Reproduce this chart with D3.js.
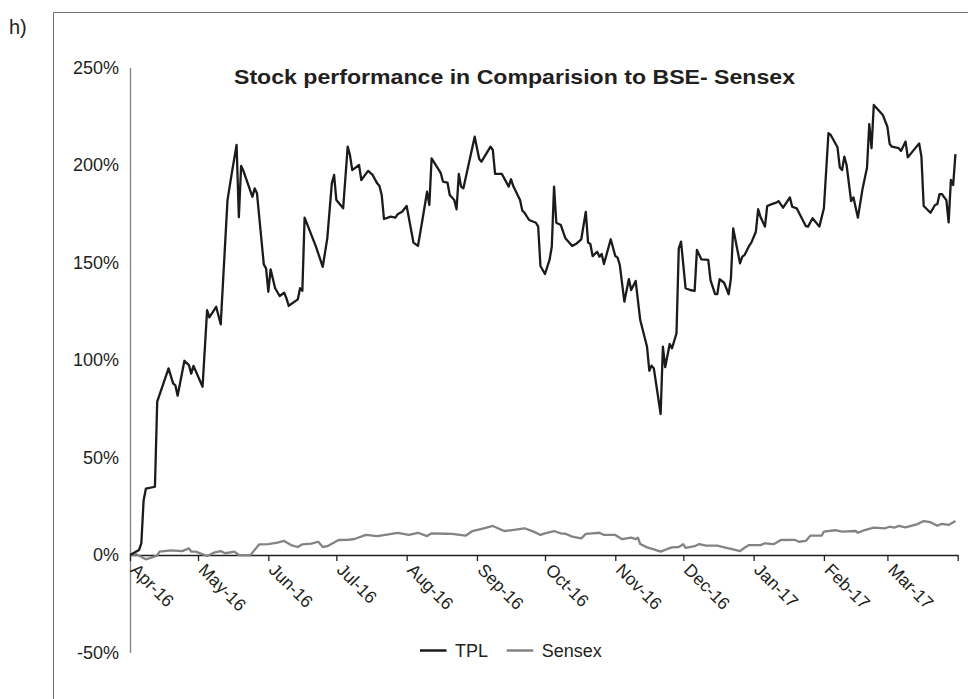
<!DOCTYPE html>
<html>
<head>
<meta charset="utf-8">
<script src="https://cdn.jsdelivr.net/npm/d3@7"></script>
<style>
  html, body { margin: 0; padding: 0; background: #fff; }
  svg { display: block; font-family: "Liberation Sans", Arial, sans-serif; }
</style>
</head>
<body>
<svg id="chart" width="968" height="699"></svg>
<script>
// ---------- DATA ----------
const chartTitle = "Stock performance in Comparision to BSE- Sensex";
const panelLabel = "h)";
const seriesNames = ["TPL", "Sensex"];

const tplDates = [
  "2016-04-01","2016-04-05","2016-04-06","2016-04-07","2016-04-08","2016-04-12","2016-04-13","2016-04-18",
  "2016-04-20","2016-04-21","2016-04-22","2016-04-25","2016-04-27","2016-04-28","2016-04-29","2016-05-03",
  "2016-05-05","2016-05-06","2016-05-09","2016-05-11","2016-05-14","2016-05-16","2016-05-18","2016-05-19",
  "2016-05-20","2016-05-21","2016-05-25","2016-05-26","2016-05-27","2016-05-30","2016-05-31","2016-06-01",
  "2016-06-02","2016-06-04","2016-06-06","2016-06-08","2016-06-09","2016-06-10","2016-06-14","2016-06-15",
  "2016-06-16","2016-06-17","2016-06-22","2016-06-23","2016-06-25","2016-06-27","2016-06-29","2016-06-30",
  "2016-07-01","2016-07-04","2016-07-06","2016-07-07","2016-07-08","2016-07-11","2016-07-12","2016-07-15",
  "2016-07-17","2016-07-19","2016-07-20","2016-07-21","2016-07-22","2016-07-25","2016-07-27","2016-07-28",
  "2016-07-30","2016-08-01","2016-08-04","2016-08-06","2016-08-08","2016-08-10","2016-08-11","2016-08-12",
  "2016-08-16","2016-08-17","2016-08-19","2016-08-20","2016-08-22","2016-08-23","2016-08-24","2016-08-25",
  "2016-08-26","2016-08-31","2016-09-02","2016-09-03","2016-09-07","2016-09-08","2016-09-09","2016-09-12",
  "2016-09-15","2016-09-16","2016-09-17","2016-09-20","2016-09-21","2016-09-22","2016-09-24","2016-09-27",
  "2016-09-28","2016-09-29","2016-10-01","2016-10-03","2016-10-04","2016-10-05","2016-10-06","2016-10-08",
  "2016-10-10","2016-10-13","2016-10-15","2016-10-17","2016-10-19","2016-10-20","2016-10-21","2016-10-22",
  "2016-10-24","2016-10-25","2016-10-26","2016-10-27","2016-10-30","2016-11-01","2016-11-02","2016-11-03",
  "2016-11-05","2016-11-07","2016-11-08","2016-11-10","2016-11-12","2016-11-15","2016-11-16","2016-11-17",
  "2016-11-18","2016-11-21","2016-11-22","2016-11-23","2016-11-25","2016-11-26","2016-11-28","2016-11-29",
  "2016-11-30","2016-12-02","2016-12-04","2016-12-06","2016-12-07","2016-12-09","2016-12-12","2016-12-13",
  "2016-12-15","2016-12-16","2016-12-17","2016-12-19","2016-12-21","2016-12-22","2016-12-23","2016-12-26",
  "2016-12-27","2016-12-28","2016-12-30","2016-12-31","2017-01-02","2017-01-03","2017-01-04","2017-01-06",
  "2017-01-07","2017-01-09","2017-01-11","2017-01-12","2017-01-14","2017-01-17","2017-01-18","2017-01-20",
  "2017-01-24","2017-01-25","2017-01-27","2017-01-30","2017-02-01","2017-02-03","2017-02-04","2017-02-07",
  "2017-02-08","2017-02-09","2017-02-10","2017-02-11","2017-02-13","2017-02-14","2017-02-16","2017-02-18",
  "2017-02-20","2017-02-21","2017-02-22","2017-02-23","2017-02-27","2017-03-01","2017-03-02","2017-03-03",
  "2017-03-06","2017-03-07","2017-03-09","2017-03-10","2017-03-15","2017-03-16","2017-03-17","2017-03-20",
  "2017-03-22","2017-03-23","2017-03-24","2017-03-25","2017-03-27","2017-03-28","2017-03-29","2017-03-30",
  "2017-03-31"
];
const tplValues = [
  0, 2.6, 6, 28, 34, 35, 78.6, 95.7,
  88, 87, 81.7, 99.6, 97.4, 93, 97, 86.3,
  125.6, 121.9, 127.3, 118.3, 182, 196.6, 210.3, 173.2,
  199.5, 197, 183.7, 188, 185.5, 149, 147, 135,
  146.5, 136.8, 132.8, 134.5, 131.6, 127.8, 131.1, 136.8,
  135.5, 173, 158.1, 154.7, 147.8, 162.4, 190.6, 194.9,
  182, 177.8, 209.4, 205.1, 197.4, 200, 192.3, 197,
  194.9, 190.6, 189.2, 184.6, 172.3, 173.5, 173, 174.7,
  176, 179, 160.2, 158.5, 172.2, 186.3, 179.5, 203.4,
  196, 191.5, 191, 184.6, 182, 177.3, 195.4, 188.9,
  188, 214.5, 203.1, 201.7, 209.4, 207.7, 195.4, 195.4,
  188.9, 192.7, 189.2, 182, 176.6, 175.5, 171.8, 170.4,
  168.4, 148.2, 144.1, 151.3, 158.1, 188.9, 170.4, 169.2,
  162.4, 158.5, 159.8, 161.9, 176, 160.2, 159.5, 153.3,
  155.5, 153, 154.4, 149.2, 161.9, 153.3, 152.5, 148.7,
  129.9, 141.5, 135.9, 140.5, 120.5, 106.8, 94.5, 97.1,
  95.7, 72.3, 106.8, 96.3, 108.2, 106, 113.7, 157.3,
  160.7, 136.8, 135.9, 135.5, 156.4, 151.6, 151.3, 141,
  133.8, 133.8, 141.4, 139.6, 133.7, 141.9, 167.5, 149.6,
  153, 153.8, 158.5, 160.2, 165.8, 177.3, 173.5, 168.4,
  179, 179.9, 180.7, 181.5, 178.1, 183.4, 178.6, 177.8,
  168.7, 168.4, 172.7, 168.4, 177.8, 216.3, 215.4, 209.1,
  198.8, 197.4, 204.3, 200, 181.5, 183.4, 173, 187.5,
  198.6, 221, 208.6, 230.8, 225.6, 219.6, 210.8, 209.4,
  208.6, 207.2, 212, 203.9, 211.1, 204.3, 179, 175.5,
  179.5, 179.9, 185.1, 185.1, 182, 170.6, 192.3, 189.7,
  205.6
];

const sensexDates = [
  "2016-04-01","2016-04-04","2016-04-08","2016-04-13","2016-04-14","2016-04-19","2016-04-24","2016-04-27",
  "2016-04-28","2016-04-30","2016-05-05","2016-05-08","2016-05-11","2016-05-13","2016-05-17","2016-05-19",
  "2016-05-24","2016-05-28","2016-06-01","2016-06-05","2016-06-08","2016-06-11","2016-06-14","2016-06-16",
  "2016-06-20","2016-06-23","2016-06-25","2016-06-27","2016-07-02","2016-07-06","2016-07-09","2016-07-14",
  "2016-07-19","2016-07-24","2016-07-28","2016-08-02","2016-08-06","2016-08-10","2016-08-12","2016-08-18",
  "2016-08-21","2016-08-27","2016-08-30","2016-09-04","2016-09-08","2016-09-13","2016-09-18","2016-09-22",
  "2016-09-26","2016-09-29","2016-10-01","2016-10-05","2016-10-08","2016-10-10","2016-10-13","2016-10-17",
  "2016-10-19","2016-10-22","2016-10-25","2016-10-27","2016-11-01","2016-11-04","2016-11-08","2016-11-10",
  "2016-11-11","2016-11-12","2016-11-15","2016-11-18","2016-11-21","2016-11-24","2016-11-26","2016-11-29",
  "2016-12-01","2016-12-02","2016-12-06","2016-12-08","2016-12-11","2016-12-16","2016-12-20","2016-12-23",
  "2016-12-26","2016-12-28","2016-12-30","2017-01-04","2017-01-06","2017-01-10","2017-01-13","2017-01-19",
  "2017-01-21","2017-01-24","2017-01-26","2017-01-31","2017-02-01","2017-02-06","2017-02-09","2017-02-15",
  "2017-02-16","2017-02-19","2017-02-23","2017-02-28","2017-03-02","2017-03-04","2017-03-06","2017-03-09",
  "2017-03-14","2017-03-17","2017-03-20","2017-03-23","2017-03-25","2017-03-28","2017-03-31"
];
const sensexValues = [
  0, 0.3, -2.2, -0.3, 1.7, 2.4, 2, 3.4,
  1.7, 1.7, -0.5, 1.2, 2, 0.9, 1.7, 0,
  -0.2, 5.5, 5.6, 6.3, 7.2, 5.1, 4.1, 5.5,
  5.8, 6.8, 4.1, 4.5, 7.7, 7.8, 8.2, 10.3,
  9.7, 10.6, 11.3, 10.3, 11.4, 9.7, 11.1, 10.9,
  10.8, 9.9, 12.3, 13.7, 14.9, 12.3, 13, 13.7,
  12, 10.3, 11.1, 12.3, 11.1, 10.9, 9.4, 8.5,
  10.8, 11.1, 11.4, 10.3, 10.3, 8.1, 8.9, 8.1,
  8.9, 5.6, 3.9, 2.9, 1.7, 3.1, 3.9, 4.1,
  5.5, 3.7, 4.5, 5.6, 4.8, 4.8, 3.7, 2.9,
  2, 3.7, 5.1, 5.1, 6, 5.6, 7.7, 7.8,
  6.8, 7.2, 9.9, 9.9, 12, 12.7, 12, 12.3,
  11.4, 12.8, 14, 13.7, 14.5, 14, 14.9, 14.2,
  15.7, 17.4, 16.8, 15, 16, 15.4, 17.4
];

const monthTicks = [
  "2016-04-01","2016-05-01","2016-06-01","2016-07-01","2016-08-01","2016-09-01",
  "2016-10-01","2016-11-01","2016-12-01","2017-01-01","2017-02-01","2017-03-01","2017-04-01"
];
const xDomain = ["2016-04-01", "2017-04-01"];
const yTicks = [-50, 0, 50, 100, 150, 200, 250];

// ---------- CHART ----------
const parse = d3.timeParse("%Y-%m-%d");
const fmt = d3.timeFormat("%b-%y");
const svg = d3.select("#chart");

const plot = { left: 130, right: 957.7, top: 67.5, bottom: 652.5 };

const x = d3.scaleTime().domain(xDomain.map(parse)).range([plot.left, plot.right]);
const y = d3.scaleLinear().domain([d3.min(yTicks), d3.max(yTicks)]).range([plot.bottom, plot.top]);

const textColor = "#231f20";

// outer frame (left and top edges visible)
svg.append("path")
  .attr("d", "M53.5,699 L53.5,12.5 L968,12.5")
  .attr("fill", "none").attr("stroke", "#6f6f6f").attr("stroke-width", 1);

svg.append("text")
  .attr("x", 9).attr("y", 34)
  .attr("font-size", 20).attr("fill", textColor)
  .text(panelLabel);

// Y axis
const yAxis = svg.append("g")
  .attr("transform", `translate(${plot.left},0)`)
  .call(d3.axisLeft(y).tickValues(yTicks).tickSize(0).tickPadding(11).tickFormat(d => d + "%"));
yAxis.select(".domain").attr("stroke", "#7f7f7f").attr("stroke-width", 1.3);
yAxis.selectAll("text").attr("font-size", 18).attr("fill", textColor)
  .attr("font-family", "Liberation Sans, Arial, sans-serif");

// X axis at 0%
const tickDates = monthTicks.map(parse);
const lastTick = tickDates[tickDates.length - 1];
const xAxis = svg.append("g")
  .attr("transform", `translate(0,${y(0)})`)
  .call(d3.axisBottom(x).tickValues(tickDates).tickSize(6).tickSizeOuter(0)
    .tickFormat(d => +d === +lastTick ? "" : fmt(d)));
xAxis.select(".domain").attr("stroke", "#231f20").attr("stroke-width", 1.5);
xAxis.selectAll(".tick line").attr("stroke", "#231f20").attr("stroke-width", 1.3);
xAxis.selectAll(".tick text")
  .attr("font-size", 17.5).attr("fill", textColor)
  .attr("font-family", "Liberation Sans, Arial, sans-serif")
  .attr("text-anchor", "start")
  .attr("y", 0).attr("dy", 0)
  .attr("transform", "translate(-1,16) rotate(45)");

// lines
const line = d3.line().x(d => x(d[0])).y(d => y(d[1]));
const sensexData = sensexDates.map((d, i) => [parse(d), sensexValues[i]]);
const tplData = tplDates.map((d, i) => [parse(d), tplValues[i]]);

svg.append("path").datum(sensexData)
  .attr("d", line).attr("fill", "none")
  .attr("stroke", "#838383").attr("stroke-width", 2.3).attr("stroke-linejoin", "round");
svg.append("path").datum(tplData)
  .attr("d", line).attr("fill", "none")
  .attr("stroke", "#1c1a1b").attr("stroke-width", 2.3).attr("stroke-linejoin", "round");

// title
svg.append("text")
  .attr("x", 514.5).attr("y", 84)
  .attr("text-anchor", "middle")
  .attr("font-size", 21).attr("font-weight", "bold").attr("fill", textColor)
  .attr("textLength", 561).attr("lengthAdjust", "spacingAndGlyphs")
  .text(chartTitle);

// legend
const legendItems = [
  { name: seriesNames[0], color: "#1c1a1b", x: 420 },
  { name: seriesNames[1], color: "#838383", x: 506.7 }
];
const lg = svg.append("g");
legendItems.forEach(it => {
  lg.append("line")
    .attr("x1", it.x).attr("x2", it.x + 26.5)
    .attr("y1", 650.5).attr("y2", 650.5)
    .attr("stroke", it.color).attr("stroke-width", 2.5);
  lg.append("text")
    .attr("x", it.x + 35).attr("y", 657)
    .attr("font-size", 18).attr("fill", textColor)
    .text(it.name);
});
</script>
</body>
</html>
